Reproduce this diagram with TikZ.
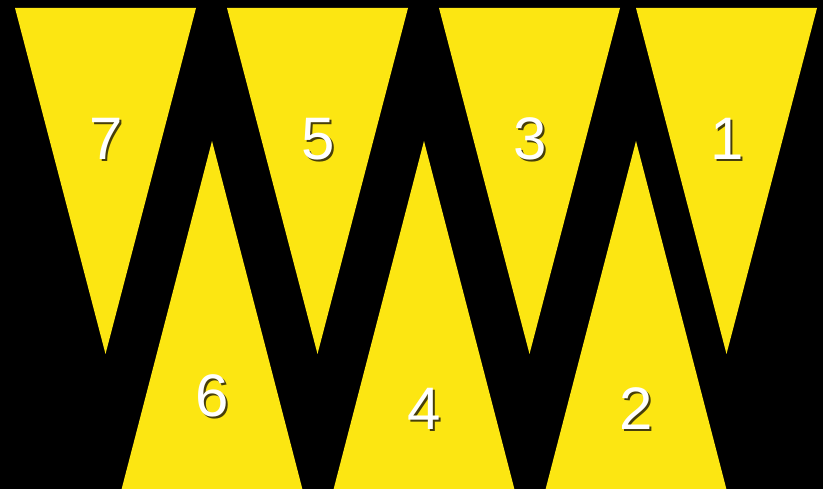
\documentclass[tikz,border=0pt]{standalone}
\usepackage{fontspec}
\setmainfont{Liberation Sans}
\definecolor{flagyellow}{RGB}{252,230,18}
\definecolor{numshade}{RGB}{70,62,10}
\newcommand{\shadednum}[1]{\makebox[0pt][l]{\kern2pt\raisebox{-2pt}{\textcolor{numshade}{#1}}}#1}
\begin{document}
\begin{tikzpicture}[x=1pt,y=-1pt,
  flag/.style={fill=flagyellow,draw=none},
  numlabel/.style={text=white,font=\fontsize{60}{60}\selectfont,inner sep=0pt}]
\fill[black] (0,0) rectangle (823,489);
\useasboundingbox (0,0) rectangle (823,489);
% downward triangles
\fill[flag] (15,8) -- (196,8) -- (105.5,354) -- cycle;
\fill[flag] (227,8) -- (408,8) -- (317.5,354) -- cycle;
\fill[flag] (439,8) -- (620,8) -- (529.5,354) -- cycle;
\fill[flag] (636,8) -- (817,8) -- (726.5,354) -- cycle;
% upward triangles
\fill[flag] (212,141) -- (121.5,489.5) -- (302.5,489.5) -- cycle;
\fill[flag] (424,141) -- (333.5,489.5) -- (514.5,489.5) -- cycle;
\fill[flag] (636,141) -- (545.5,489.5) -- (726.5,489.5) -- cycle;
% labels
\foreach \n/\px/\py in {7/106/140,5/318/140,3/530/140,1/727/140,6/212/397,4/424/410,2/636/410}{
  \node[numlabel] (l\n) at (\px,\py) {\shadednum{\n}};
}
\end{tikzpicture}
\end{document}
